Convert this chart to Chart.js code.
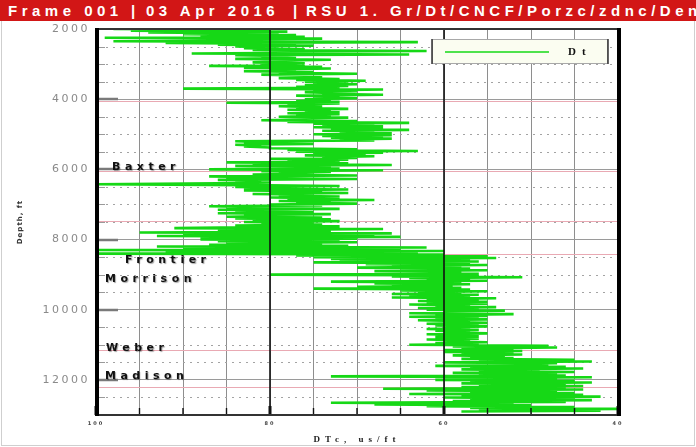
<!DOCTYPE html>
<html>
<head>
<meta charset="utf-8">
<script src="https://cdn.jsdelivr.net/npm/chart.js@4.4.1/dist/chart.umd.min.js"></script>
<style>
  html, body { margin: 0; padding: 0; background: #fff; }
  #wrap { position: relative; width: 696px; height: 447px; overflow: hidden; background: #fff; }
  #hdr { position: absolute; left: 0; top: 0; width: 696px; height: 21px; background: #d21616;
         color: #fff; font: bold 15px "Liberation Sans", Arial, sans-serif; line-height: 21px;
         white-space: nowrap; overflow: hidden; }
  #hdr span { position: absolute; top: 0; letter-spacing: 4.5px; }
  #frame { position: absolute; left: 1px; top: 21px; width: 692px; height: 424px;
           border: 1px solid #cfcfcf; border-top: none; }
  #log { position: absolute; left: 0; top: 0; }
</style>
</head>
<body>
<div id="wrap">
  <div id="frame"></div>
  <canvas id="log" width="696" height="447"></canvas>
  <div id="hdr">
    <span style="left:8px">Frame 001</span>
    <span style="left:131px">|</span>
    <span style="left:146px">03 Apr 2016</span>
    <span style="left:293px">|</span>
    <span style="left:306px">RSU 1. Gr/Dt/CNCF/Porzc/zdnc/Den</span>
  </div>
</div>
<script>
// Sonic log (compressional slowness, us/ft), sampled every 25 ft from 2000 ft.
const depthStart = 2000;
const depthStep = 25;
const dtValues = [
  /* 2000 */ 98, 80, 96, 78, 94, 79, 90, 77,
  /* 2200 */ 88, 76, 99, 74, 85, 78, 98, 63,
  /* 2400 */ 92, 77, 86, 75, 84, 79, 83, 76,
  /* 2600 */ 82, 62, 80, 76, 89, 64, 84, 78,
  /* 2800 */ 81, 77, 84, 73, 80, 78, 82, 76,
  /* 3000 */ 81, 76, 87, 74, 83, 73, 80, 77,
  /* 3200 */ 83, 75, 79, 70, 81, 76, 78, 74,
  /* 3400 */ 79, 72, 77, 69, 76, 71, 75, 70,
  /* 3600 */ 76, 71, 77, 72, 90, 67, 75, 70,
  /* 3800 */ 76, 73, 74, 67, 77, 72, 75, 70,
  /* 4000 */ 76, 73, 77, 72, 85, 72, 78, 74,
  /* 4200 */ 79, 74, 77, 71, 78, 73, 76, 72,
  /* 4400 */ 78, 72, 77, 73, 79, 71, 76, 74,
  /* 4600 */ 81, 70, 78, 64, 75, 68, 74, 67,
  /* 4800 */ 75, 67, 73, 64, 74, 68, 72, 66,
  /* 5000 */ 75, 66, 74, 67, 73, 66, 72, 68,
  /* 5200 */ 84, 80, 83, 75, 84, 81, 83, 80,
  /* 5400 */ 80, 70, 78, 63, 77, 67, 75, 69,
  /* 5600 */ 76, 68, 74, 70, 80, 71, 78, 72,
  /* 5800 */ 85, 71, 82, 66, 84, 73, 80, 72,
  /* 6000 */ 87, 67, 81, 73, 79, 75, 82, 70,
  /* 6200 */ 87, 80, 85, 70, 86, 81, 84, 80,
  /* 6400 */ 86, 100, 83, 72, 84, 78, 83, 71,
  /* 6600 */ 83, 74, 80, 71, 82, 75, 79, 72,
  /* 6800 */ 80, 72, 78, 68, 79, 73, 77, 70,
  /* 7000 */ 80, 74, 87, 80, 85, 72, 86, 79,
  /* 7200 */ 84, 75, 86, 73, 83, 78, 85, 74,
  /* 7400 */ 84, 73, 82, 72, 83, 75, 81, 74,
  /* 7600 */ 84, 72, 83, 91, 67, 80, 86, 73,
  /* 7800 */ 95, 66, 90, 68, 93, 65, 88, 70,
  /* 8000 */ 88, 72, 86, 70, 85, 74, 87, 71,
  /* 8200 */ 93, 62, 90, 65, 100, 60, 92, 63,
  /* 8400 */ 100, 60, 77, 55, 75, 54, 73, 57,
  /* 8600 */ 72, 56, 75, 57, 69, 55, 66, 58,
  /* 8800 */ 70, 57, 65, 55, 68, 58, 64, 56,
  /* 9000 */ 80, 56, 66, 51, 64, 57, 62, 55,
  /* 9200 */ 73, 58, 68, 57, 66, 59, 70, 58,
  /* 9400 */ 75, 57, 65, 55, 63, 58, 66, 56,
  /* 9600 */ 64, 57, 66, 54, 62, 56, 63, 55,
  /* 9800 */ 62, 55, 64, 57, 61, 54, 63, 56,
  /* 10000 */ 62, 53, 60, 56, 64, 52, 61, 55,
  /* 10200 */ 64, 56, 61, 55, 63, 57, 60, 55,
  /* 10400 */ 62, 56, 61, 55, 60, 57, 62, 56,
  /* 10600 */ 61, 57, 60, 55, 62, 56, 61, 56,
  /* 10800 */ 61, 56, 62, 57, 60, 55, 61, 56,
  /* 11000 */ 64, 48, 59, 47, 58, 52, 60, 51,
  /* 11200 */ 60, 52, 58, 51, 59, 53, 57, 52,
  /* 11400 */ 58, 45, 56, 43, 60, 47, 55, 48,
  /* 11600 */ 61, 46, 57, 44, 58, 49, 56, 45,
  /* 11800 */ 59, 47, 56, 46, 73, 43, 60, 47,
  /* 12000 */ 61, 45, 57, 43, 58, 46, 56, 44,
  /* 12200 */ 58, 46, 67, 44, 62, 47, 57, 45,
  /* 12400 */ 64, 44, 58, 42, 60, 45, 57, 43,
  /* 12600 */ 59, 46, 73, 52, 68, 50, 62, 45,
  /* 12800 */ 57, 40, 56, 42, 58
];

// Formation tops (ft)
const formationNames = ['Baxter', 'Frontier', 'Morrison', 'Weber', 'Madison'];
const formationDepths = [5930, 8580, 9120, 11090, 11890];
// Depths of the pink marker lines across the track
const markerDepths = [4060, 6040, 7480, 8400, 11150, 12200];

// Axis ranges and tick steps
const dtMin = 40, dtMax = 100, dtStep = 5, dtMajor = 20;
const depthMin = 2000, depthMax = 13000, depthMajor = 2000, depthMinor = 500;

// Horizontal indent of each formation name from the track edge (px)
const nameIndent = [16, 29, 9, 10, 9];

const points = dtValues.map((v, i) => ({ x: v, y: depthStart + i * depthStep }));

const spacedText = {
  id: 'spacedText',
  beforeDraw(chart) {
    const specs = [['x', '2px', '5px'], ['y', '2.5px', '1px']];
    specs.forEach(([id, lab, tit]) => {
      const s = chart.scales[id];
      if (!s || s._spaced) return;
      s._spaced = true;
      const dl = s.drawLabels.bind(s), dt = s.drawTitle.bind(s);
      s.drawLabels = (ca) => { const c = s.ctx; c.letterSpacing = lab; dl(ca); c.letterSpacing = '0px'; };
      s.drawTitle = (ca) => { const c = s.ctx; c.letterSpacing = tit; dt(ca); c.letterSpacing = '0px'; };
    });
  }
};

const trackDecor = {
  id: 'trackDecor',
  beforeDatasetsDraw(chart) {
    const { ctx, chartArea: a, scales: { y } } = chart;
    ctx.save();
    // dotted half-thousand lines
    ctx.strokeStyle = '#a3a3a3';
    ctx.lineWidth = 1;
    ctx.setLineDash([2, 5]);
    for (let d = depthMin + depthMinor; d < depthMax; d += depthMinor) {
      if (d % depthMajor === 0) continue;
      const py = Math.round(y.getPixelForValue(d)) + 0.5;
      ctx.beginPath(); ctx.moveTo(a.left + 10, py); ctx.lineTo(a.right, py); ctx.stroke();
    }
    ctx.setLineDash([]);
    // marker lines
    ctx.strokeStyle = '#e9a9b3';
    markerDepths.forEach(d => {
      const py = Math.round(y.getPixelForValue(d)) + 0.5;
      ctx.beginPath(); ctx.moveTo(a.left, py); ctx.lineTo(a.right, py); ctx.stroke();
    });
    // left edge depth stubs
    for (let d = depthMin + depthMinor; d < depthMax; d += depthMinor) {
      const major = d % depthMajor === 0;
      const py = Math.round(y.getPixelForValue(d)) + (major ? 0 : 0.5);
      ctx.strokeStyle = major ? '#7a7a7a' : '#9a9a9a';
      ctx.lineWidth = major ? 2.5 : 1;
      ctx.beginPath(); ctx.moveTo(a.left, py); ctx.lineTo(a.left + (major ? 22 : 9), py); ctx.stroke();
    }
    ctx.restore();
  },
  afterDatasetsDraw(chart) {
    const { ctx, chartArea: a, scales: { x, y } } = chart;
    ctx.save();
    // heavy lines at the labelled slowness values
    ctx.strokeStyle = '#111';
    ctx.lineWidth = 1.6;
    for (let v = dtMin + dtMajor; v < dtMax; v += dtMajor) {
      const px = x.getPixelForValue(v);
      ctx.beginPath(); ctx.moveTo(px, a.top); ctx.lineTo(px, a.bottom); ctx.stroke();
    }
    // tick marks inside the bottom edge
    for (let v = dtMin; v <= dtMax; v += dtStep) {
      const px = x.getPixelForValue(v);
      const major = v % dtMajor === 0;
      ctx.lineWidth = major ? 3 : 1.4;
      ctx.beginPath(); ctx.moveTo(px, a.bottom - (major ? 9 : 7)); ctx.lineTo(px, a.bottom); ctx.stroke();
    }
    // track frame
    ctx.strokeStyle = '#333';
    ctx.lineWidth = 2;
    ctx.beginPath(); ctx.moveTo(a.left, a.top); ctx.lineTo(a.right, a.top); ctx.stroke();
    ctx.beginPath(); ctx.moveTo(a.left, a.bottom); ctx.lineTo(a.right, a.bottom); ctx.stroke();
    ctx.strokeStyle = '#000';
    ctx.lineWidth = 4;
    ctx.beginPath(); ctx.moveTo(a.left + 1, a.top - 1); ctx.lineTo(a.left + 1, a.bottom + 1); ctx.stroke();
    ctx.beginPath(); ctx.moveTo(a.right + 1, a.top - 1); ctx.lineTo(a.right + 1, a.bottom + 1); ctx.stroke();

    // formation names
    ctx.font = 'bold 11px "DejaVu Sans", sans-serif';
    ctx.letterSpacing = '4.5px';
    ctx.textAlign = 'left';
    ctx.textBaseline = 'middle';
    ctx.fillStyle = '#111';
    ctx.shadowColor = 'rgba(0,0,0,0.35)';
    ctx.shadowOffsetX = 1; ctx.shadowOffsetY = 1; ctx.shadowBlur = 1;
    formationNames.forEach((n, i) => {
      ctx.fillText(n, a.left + nameIndent[i], y.getPixelForValue(formationDepths[i]));
    });
    ctx.shadowColor = 'transparent';
    ctx.letterSpacing = '0px';

    // legend
    const ds = chart.data.datasets[0];
    const lx = a.right - 186, ly = a.top + 10, lw = 175, lh = 24;
    ctx.fillStyle = '#fbfdf1';
    ctx.fillRect(lx, ly, lw, lh);
    ctx.strokeStyle = '#a8a8a8'; ctx.lineWidth = 1;
    ctx.strokeRect(lx + 0.5, ly + 0.5, lw, lh);
    ctx.strokeStyle = '#333'; ctx.lineWidth = 1.5;
    ctx.beginPath(); ctx.moveTo(lx, ly); ctx.lineTo(lx, ly + lh + 1); ctx.stroke();
    ctx.beginPath(); ctx.moveTo(lx + lw + 1, ly); ctx.lineTo(lx + lw + 1, ly + lh + 1); ctx.stroke();
    ctx.strokeStyle = ds.borderColor; ctx.lineWidth = 1.5;
    ctx.beginPath(); ctx.moveTo(lx + 13, ly + 13); ctx.lineTo(lx + 117, ly + 13); ctx.stroke();
    ctx.fillStyle = '#111';
    ctx.font = 'bold 11px "Liberation Serif", serif';
    ctx.letterSpacing = '6px';
    ctx.textBaseline = 'middle';
    ctx.fillText(ds.label, lx + 136, ly + 13);
    ctx.letterSpacing = '0px';
    ctx.restore();
  }
};

new Chart(document.getElementById('log'), {
  type: 'scatter',
  data: {
    datasets: [{
      label: 'Dt',
      data: points,
      showLine: true,
      borderColor: 'rgb(22, 216, 22)',
      backgroundColor: 'rgb(22, 216, 22)',
      borderWidth: 2.6,
      pointRadius: 0,
      tension: 0
    }]
  },
  options: {
    responsive: false,
    animation: false,
    devicePixelRatio: 1,
    layout: { padding: { top: 29, right: 78, left: 0, bottom: 0 } },
    plugins: { legend: { display: false }, tooltip: { enabled: false } },
    scales: {
      x: {
        type: 'linear',
        position: 'bottom',
        min: dtMin, max: dtMax, reverse: true,
        afterFit(s) { s.height = 32; },
        ticks: {
          stepSize: dtStep, autoSkip: false, maxRotation: 0, padding: 6,
          font: { size: 5, family: '"DejaVu Sans", sans-serif', weight: 'bold' }, color: '#444',
          callback: v => (v % dtMajor === 0 ? String(v) : '')
        },
        grid: { color: '#8e8e8e', lineWidth: 1, drawTicks: false },
        border: { display: false },
        title: {
          display: true, text: 'DTc, us/ft', color: '#222',
          font: { size: 9, family: '"Liberation Serif", serif', weight: 'bold' },
          padding: { top: 0, bottom: 2 }
        }
      },
      y: {
        type: 'linear',
        position: 'left',
        min: depthMin, max: depthMax, reverse: true,
        afterFit(s) { s.width = 96; },
        afterBuildTicks(s) {
          const t = [];
          for (let d = depthMin; d < depthMax; d += depthMajor) t.push({ value: d });
          s.ticks = t;
        },
        ticks: {
          autoSkip: false, padding: 6, color: '#8a8a8a',
          font: { size: 11, family: '"DejaVu Sans", sans-serif' },
          callback: v => String(v)
        },
        grid: { color: '#9a9a9a', lineWidth: 1, drawTicks: false },
        border: { display: false },
        title: {
          display: true, text: 'Depth, ft', color: '#333',
          font: { size: 7, family: '"DejaVu Sans", sans-serif', weight: 'bold' },
          padding: { top: 16, bottom: 0 }
        }
      }
    }
  },
  plugins: [spacedText, trackDecor]
});
</script>
</body>
</html>
